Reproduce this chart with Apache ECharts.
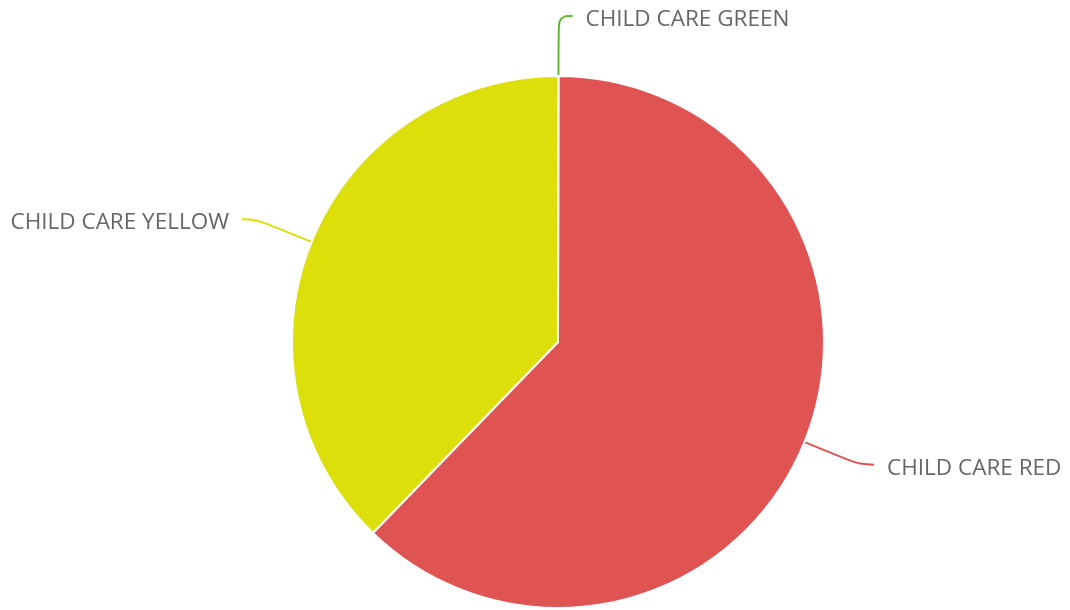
<!DOCTYPE html>
<html><head><meta charset="utf-8">
<script src="https://cdn.jsdelivr.net/npm/echarts@6/dist/echarts.min.js"></script>
<style>html,body{margin:0;padding:0;background:#fff}#c{width:1070px;height:610px}</style>
</head><body><div id="c"></div>
<script>
const categories = ['CHILD CARE GREEN', 'CHILD CARE RED', 'CHILD CARE YELLOW'];
const values = [0, 28, 17];
const colors = ['#5cb830', '#e05353', '#dcdf0a'];

const chart = echarts.init(document.getElementById('c'));
chart.setOption({
  animation: false,
  series: [{
    type: 'pie',
    center: [558, 342],
    radius: [0, 266],
    startAngle: 89.9,
    clockwise: true,
    avoidLabelOverlap: false,
    itemStyle: { borderColor: '#fff', borderWidth: 2 },
    label: {
      show: true,
      formatter: '{t|{b}}',
      distanceToLabelLine: 13,
      rich: {
        t: {
          fontFamily: 'Open Sans',
          fontSize: 22.5,
          color: '#666',
          padding: [7, 0, 0, 0]
        }
      }
    },
    labelLine: { show: true, smooth: 0.4, length: 60, length2: 14, lineStyle: { width: 2 } },
    data: categories.map((c, i) => ({ name: c, value: values[i], itemStyle: { color: colors[i] } }))
  }]
});
</script></body></html>
